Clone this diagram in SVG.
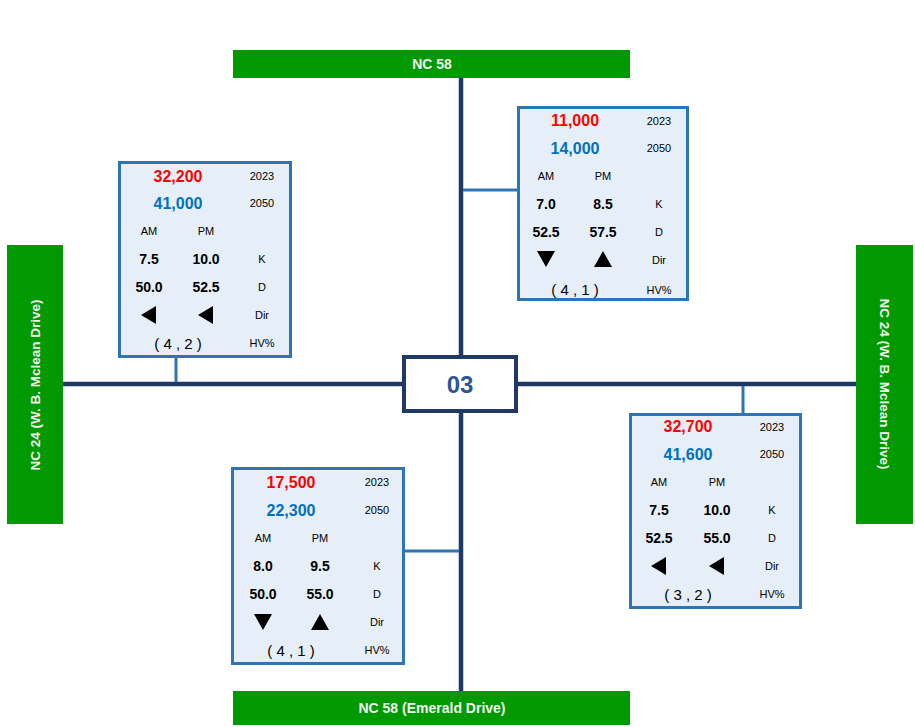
<svg xmlns="http://www.w3.org/2000/svg" width="915" height="727" viewBox="0 0 915 727">
<style>
text{font-family:"Liberation Sans",Arial,sans-serif;text-anchor:middle}
.bar{fill:#009900}
.bt{fill:#F2F2F2;font-weight:bold;font-size:14px}
.road{stroke:#1F3864;stroke-width:4.5;fill:none}
.link{stroke:#2E75B6;stroke-width:3;fill:none}
.box{fill:#E6EFF8;stroke:#2E75B6;stroke-width:3}
.big{font-size:16px;font-weight:bold}
.red{fill:#FF0000}
.blu{fill:#0070C0}
.sm{font-size:11px;fill:#000}
.val{font-size:14px;font-weight:bold;fill:#000}
.hv{font-size:15px;fill:#000}
.tri{fill:#000}
</style>
<defs>
<path id="tl" d="M-8,0 L7,-9 L7,9 Z"/>
<path id="td" d="M-9,-8 L9,-8 L0,8 Z"/>
<path id="tu" d="M-9,8 L9,8 L0,-8 Z"/>
</defs>
<rect width="915" height="727" fill="#FFFFFF"/>

<g id="connectors">
<line class="road" x1="461" y1="78" x2="461" y2="691"/>
<line class="road" x1="63" y1="384" x2="856" y2="384"/>
<line class="link" x1="176" y1="358" x2="176" y2="382"/>
<line class="link" x1="463" y1="190" x2="517" y2="190"/>
<line class="link" x1="405" y1="551" x2="459" y2="551"/>
<line class="link" x1="743" y1="386" x2="743" y2="413"/>
</g>

<g id="road-n">
<rect class="bar" x="233" y="50" width="397" height="28"/>
<text class="bt" x="432" y="69">NC 58</text>
</g>
<g id="road-s">
<rect class="bar" x="233" y="691" width="397" height="34"/>
<text class="bt" x="432" y="713">NC 58 (Emerald Drive)</text>
</g>
<g id="road-w">
<rect class="bar" x="7" y="245" width="56" height="279"/>
<text class="bt" transform="translate(40,385) rotate(-90)" style="font-size:13.5px">NC 24 (W. B. Mclean Drive)</text>
</g>
<g id="road-e">
<rect class="bar" x="856" y="245" width="57" height="279"/>
<text class="bt" transform="translate(880,384) rotate(90)" style="font-size:13.5px">NC 24 (W. B. Mclean Drive)</text>
</g>

<g id="node-03">
<rect x="404" y="357" width="112" height="54" fill="#FFFFFF" stroke="#1F3864" stroke-width="4"/>
<text x="460" y="393" style="font-size:24px;font-weight:bold;fill:#2F5597">03</text>
</g>

<g id="box-nw" transform="translate(118,161)">
<rect class="box" x="1.5" y="1.5" width="171" height="194"/>
<text class="big red" x="60" y="20.5">32,200</text><text class="sm" x="144" y="19">2023</text>
<text class="big blu" x="60" y="47.5">41,000</text><text class="sm" x="144" y="46">2050</text>
<text class="sm" x="31" y="74">AM</text><text class="sm" x="88" y="74">PM</text>
<text class="val" x="31" y="103">7.5</text><text class="val" x="88" y="103">10.0</text><text class="sm" x="144" y="102">K</text>
<text class="val" x="31" y="131">50.0</text><text class="val" x="88" y="131">52.5</text><text class="sm" x="144" y="130">D</text>
<use href="#tl" class="tri" x="31" y="154"/><use href="#tl" class="tri" x="88" y="154"/><text class="sm" x="144" y="158">Dir</text>
<text class="hv" x="60" y="187.5">( 4 , 2 )</text><text class="sm" x="144" y="186">HV%</text>
</g>

<g id="box-ne" transform="translate(517,106)">
<rect class="box" x="1.5" y="1.5" width="169" height="192"/>
<text class="big red" x="58" y="19.5">11,000</text><text class="sm" x="142" y="19">2023</text>
<text class="big blu" x="58" y="47.5">14,000</text><text class="sm" x="142" y="46">2050</text>
<text class="sm" x="29" y="74">AM</text><text class="sm" x="86" y="74">PM</text>
<text class="val" x="29" y="103">7.0</text><text class="val" x="86" y="103">8.5</text><text class="sm" x="142" y="102">K</text>
<text class="val" x="29" y="131">52.5</text><text class="val" x="86" y="131">57.5</text><text class="sm" x="142" y="130">D</text>
<use href="#td" class="tri" x="29" y="153"/><use href="#tu" class="tri" x="86" y="153"/><text class="sm" x="142" y="158">Dir</text>
<text class="hv" x="58" y="189">( 4 , 1 )</text><text class="sm" x="142" y="188">HV%</text>
</g>

<g id="box-s" transform="translate(231,467)">
<rect class="box" x="1.5" y="1.5" width="171" height="195"/>
<text class="big red" x="60" y="20.5">17,500</text><text class="sm" x="146" y="19">2023</text>
<text class="big blu" x="60" y="48.5">22,300</text><text class="sm" x="146" y="47">2050</text>
<text class="sm" x="32" y="75">AM</text><text class="sm" x="89" y="75">PM</text>
<text class="val" x="32" y="104">8.0</text><text class="val" x="89" y="104">9.5</text><text class="sm" x="146" y="103">K</text>
<text class="val" x="32" y="132">50.0</text><text class="val" x="89" y="132">55.0</text><text class="sm" x="146" y="131">D</text>
<use href="#td" class="tri" x="32" y="155"/><use href="#tu" class="tri" x="89" y="155"/><text class="sm" x="146" y="159">Dir</text>
<text class="hv" x="60" y="188.5">( 4 , 1 )</text><text class="sm" x="146" y="187">HV%</text>
</g>

<g id="box-e" transform="translate(629,413)">
<rect class="box" x="1.5" y="1.5" width="170" height="193"/>
<text class="big red" x="59" y="18.5">32,700</text><text class="sm" x="143" y="18">2023</text>
<text class="big blu" x="59" y="46.5">41,600</text><text class="sm" x="143" y="45">2050</text>
<text class="sm" x="30" y="73">AM</text><text class="sm" x="88" y="73">PM</text>
<text class="val" x="30" y="102">7.5</text><text class="val" x="88" y="102">10.0</text><text class="sm" x="143" y="101">K</text>
<text class="val" x="30" y="130">52.5</text><text class="val" x="88" y="130">55.0</text><text class="sm" x="143" y="129">D</text>
<use href="#tl" class="tri" x="30" y="153"/><use href="#tl" class="tri" x="88" y="153"/><text class="sm" x="143" y="157">Dir</text>
<text class="hv" x="59" y="186.5">( 3 , 2 )</text><text class="sm" x="143" y="185">HV%</text>
</g>
</svg>
